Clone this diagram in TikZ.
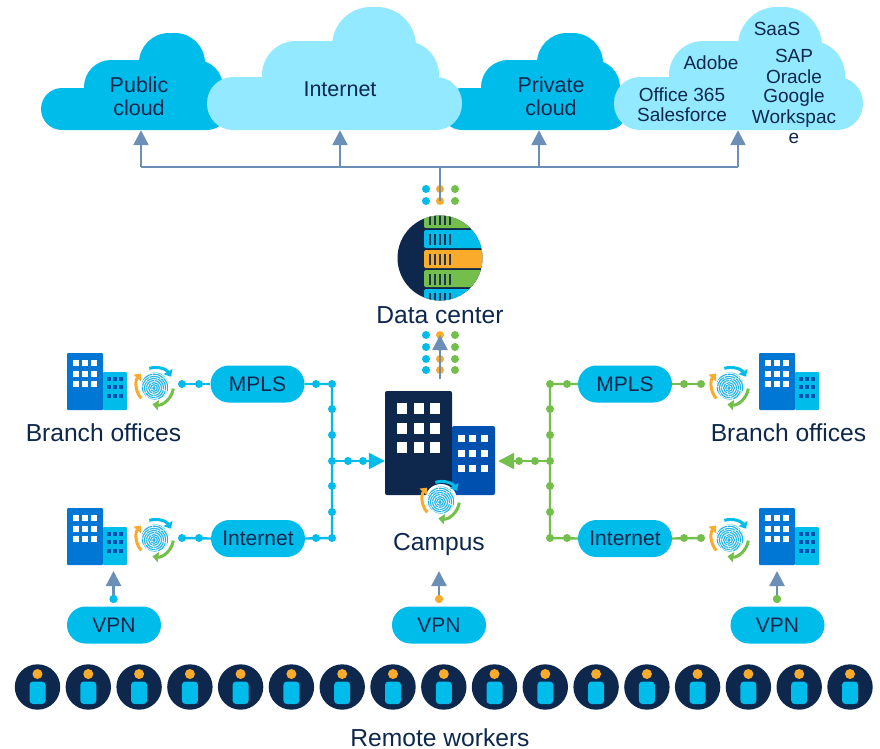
\documentclass[tikz,border=0pt]{standalone}
\usepackage{fontspec}
\setmainfont{Liberation Sans}
\usetikzlibrary{arrows.meta,shapes.misc}
\definecolor{navy}{HTML}{0D274D}
\definecolor{cyanA}{HTML}{00BCEB}
\definecolor{cyanB}{HTML}{93E9FF}
\definecolor{blueA}{HTML}{0076D5}
\definecolor{blueB}{HTML}{0051AF}
\definecolor{steel}{HTML}{6C8FB8}
\definecolor{orangeA}{HTML}{FBAB2C}
\definecolor{greenA}{HTML}{74BF4B}
\definecolor{fpblue}{HTML}{22B4E6}
\tikzset{
  x=1pt,y=-1pt,
  lbl/.style={text=navy,font=\fontsize{21.5}{23}\selectfont,align=center,inner sep=0pt},
  saaslbl/.style={text=navy,font=\fontsize{19}{21}\selectfont,align=center,inner sep=0pt,anchor=base},
  biglbl/.style={text=navy,font=\fontsize{24.6}{28}\selectfont,align=center,inner sep=0pt,anchor=base},
  pill/.style={rounded rectangle,fill=cyanA,text=navy,font=\fontsize{21}{24}\selectfont,inner sep=0pt,minimum width=94pt,minimum height=37pt},
  anchorbox/.style={inner sep=0pt,minimum width=#1,minimum height=40pt},
  bus/.style={draw=steel,line width=2.4pt},
  busarrow/.style={draw=steel,line width=2.4pt,-{Triangle[length=15pt,width=15pt]}},
  cyanline/.style={draw=cyanA,line width=2.4pt},
  greenline/.style={draw=greenA,line width=2.4pt},
  cyandot/.style={circle,fill=cyanA,inner sep=0pt,minimum size=8pt},
  greendot/.style={circle,fill=greenA,inner sep=0pt,minimum size=8pt},
  orangedot/.style={circle,fill=orangeA,inner sep=0pt,minimum size=8pt},
  pics/branchbldg/.style={code={
    \fill[blueA,rounded corners=1pt] (0,0) rectangle (36,57);
    \fill[cyanA,rounded corners=1pt] (36,19) rectangle (60,57);
    \foreach \wy in {7,18,28}{\foreach \wx in {6,15,24}{\fill[white] (\wx,\wy) rectangle +(6,6);}}
    \foreach \wy in {24,32,41}{\foreach \wx in {40,46,52}{\fill[blueB] (\wx,\wy) rectangle +(4.4,4);}}
  }},
  pics/fpicon/.style={code={
    \begin{scope}[yscale=-1]
      \fill[white] (0,0) circle (16);
      \begin{scope}
        \clip (0,0) circle (13.6);
        \foreach \fr in {1.2,3.3,5.4,7.5,9.6,11.7,13.8,15.9}{
          \draw[fpblue,line width=1.15pt,dash pattern=on 11pt off .8pt] (-1,-2) circle (\fr);
        }
      \end{scope}
      \draw[cyanA,line width=3pt,-{Triangle[length=6pt,width=10pt]}] (108:18.5) arc (108:30:18.5);
      \draw[greenA,line width=3pt,-{Triangle[length=6pt,width=10pt]}] (-8:18.5) arc (-8:-98:18.5);
      \draw[orangeA,line width=3pt,-{Triangle[length=6pt,width=10pt]}] (222:18.5) arc (222:138:18.5);
    \end{scope}
  }},
  pics/worker/.style={code={
    \fill[navy] (0,0) circle (22.7);
    \fill[orangeA] (0,-13) circle (5);
    \fill[cyanA,rounded corners=3.5pt] (-8,-5.5) rectangle (8,17);
  }}
}
\begin{document}
\begin{tikzpicture}
\useasboundingbox (0,0) rectangle (880,748);
% clouds
\fill[cyanA,rounded corners=21pt] (41,88) rectangle (228,130);
\fill[cyanA,rounded corners=27pt] (84,60) rectangle (223,125);
\fill[cyanA,rounded corners=30pt] (139,33) rectangle (205,100);
\fill[cyanA,rounded corners=21pt] (441,88) rectangle (628,130);
\fill[cyanA,rounded corners=27pt] (481,60) rectangle (620,125);
\fill[cyanA,rounded corners=30pt] (537,33) rectangle (603,100);
\fill[cyanB,rounded corners=26pt] (207,77) rectangle (462,130);
\fill[cyanB,rounded corners=34pt] (262,41) rectangle (439,120);
\fill[cyanB,rounded corners=39pt] (332,7) rectangle (416,100);
\fill[cyanB,rounded corners=26pt] (614,77) rectangle (863,130);
\fill[cyanB,rounded corners=34pt] (669,41) rectangle (845,120);
\fill[cyanB,rounded corners=39pt] (738,7) rectangle (822,100);
\node[anchorbox=184pt] (cloudPublic) at (133,110) {};
\node[anchorbox=255pt] (cloudInternet) at (334,110) {};
\node[anchorbox=184pt] (cloudPrivate) at (533,110) {};
\node[anchorbox=249pt] (cloudSaas) at (738,110) {};
\node[lbl] (tPublic) at (139,96) {Public\\cloud};
\node[lbl] (tInternet) at (340,89) {Internet};
\node[lbl] (tPrivate) at (551,96) {Private\\cloud};
\node[saaslbl] (tSaas) at (777,35) {SaaS};
\node[saaslbl] (tAdobe) at (711,69) {Adobe};
\node[saaslbl] (tOffice) at (682,101) {Office 365};
\node[saaslbl] (tSales) at (682,121) {Salesforce};
\node[saaslbl] (tSap) at (794,62) {SAP};
\node[saaslbl] (tOracle) at (794,83) {Oracle};
\node[saaslbl] (tGoogle) at (794,102.5) {Google};
\node[saaslbl] (tWork) at (794,123) {Workspac};
\node[saaslbl] (tE) at (794,143) {e};
% data centre dots
\foreach \dy/\dn in {189/a,201/b,335/c,347/d,359/e,370/f}{
  \node[cyandot] (dc\dn1) at (426,\dy) {};
  \node[orangedot] (dc\dn2) at (440,\dy) {};
  \node[greendot] (dc\dn3) at (455,\dy) {};
}
% bus
\coordinate (busA) at (141,167);
\coordinate (busB) at (340,167);
\coordinate (busC) at (539,167);
\coordinate (busD) at (738,167);
\coordinate (busM) at (440,167);
\draw[bus] (busA) -- (busD);
\draw[draw=steel,line width=1.6pt] (busM) -- (dcb2.center);
\draw[busarrow] (busA) -- (busA |- cloudPublic.south);
\draw[busarrow] (busB) -- (busB |- cloudInternet.south);
\draw[busarrow] (busC) -- (busC |- cloudPrivate.south);
\draw[busarrow] (busD) -- (busD |- cloudSaas.south);
% data center
\begin{scope}
  \clip (440,258) circle (42.5);
  \fill[navy] (395,214) rectangle (485,302);
  \fill[greenA,rounded corners=1.5pt] (424,206) rectangle (490,228);
  \fill[cyanA,rounded corners=1.5pt] (424,230) rectangle (490,248);
  \fill[orangeA,rounded corners=1.5pt] (424,250) rectangle (490,268);
  \fill[greenA,rounded corners=1.5pt] (424,270) rectangle (490,287);
  \fill[cyanA,rounded corners=1.5pt] (424,289) rectangle (490,310);
  \foreach \tx in {430,435,440,445,450}{
    \foreach \ty in {207,234,254,274,293}{
      \fill[navy!85!gray] (\tx-1.2,\ty) rectangle +(2.4,\ifnum\ty=207 18\else 10.5\fi);
    }
  }
\end{scope}
\node[biglbl] (tDC) at (440,323) {Data center};
% campus
\fill[navy,rounded corners=2pt] (385,391) rectangle (452,495);
\fill[blueB,rounded corners=2pt] (452,426) rectangle (495,495);
\foreach \wy in {403,423,442}{\foreach \wx in {397,414,430}{\fill[white] (\wx,\wy) rectangle +(10,10.5);}}
\foreach \wy in {435,450,465}{\foreach \wx in {458,469,481}{\fill[white] (\wx,\wy) rectangle +(7,7);}}
\pic at (441,500) {fpicon};
\node[inner sep=0pt,minimum width=113pt,minimum height=104pt] (campus) at (441.5,443) {};
\node[biglbl] (tCampus) at (439,550) {Campus};
\draw[busarrow] (440,379) -- (dcc2.center);
% left side
\pic at (67,353) {branchbldg};
\pic at (67,508) {branchbldg};
\pic at (155,386) {fpicon};
\pic at (155,538) {fpicon};
\node[biglbl] (tBL) at (103.5,441) {Branch offices};
\node[pill] (mplsL) at (257.5,384) {MPLS};
\node[pill] (inetL) at (258,538.5) {Internet};
\foreach \px/\py/\pn in {182/384/a,199/384/b,316/384/c,332/384/d,332/409/e,332/435/f,332/461/g,332/486/h,332/512/i,332/538/j,316/538/k,182/538/l,199/538/m,348/461/n,363/461/o}{
  \node[cyandot] (L\pn) at (\px,\py) {};
}
\draw[cyanline] (La.center) -- (mplsL.west);
\draw[cyanline] (mplsL.east) -- (Ld.center) -- (Lj.center) -- (inetL.east);
\draw[cyanline] (Ll.center) -- (inetL.west);
\draw[cyanline,-{Triangle[length=16pt,width=16pt]}] (Lg.center) -- (Lg -| campus.west);
% right side
\pic at (759,353) {branchbldg};
\pic at (759,508) {branchbldg};
\pic at (730,386) {fpicon};
\pic at (730,538) {fpicon};
\node[biglbl] (tBR) at (788.5,441) {Branch offices};
\node[pill] (mplsR) at (625,384) {MPLS};
\node[pill] (inetR) at (625,538.5) {Internet};
\foreach \px/\py/\pn in {701/384/a,684/384/b,567/384/c,550/384/d,550/409/e,550/435/f,550/461/g,550/486/h,550/512/i,550/538/j,567/538/k,701/538/l,684/538/m,535/461/n,519/461/o}{
  \node[greendot] (R\pn) at (\px,\py) {};
}
\draw[greenline] (Ra.center) -- (mplsR.east);
\draw[greenline] (mplsR.west) -- (Rd.center) -- (Rj.center) -- (inetR.west);
\draw[greenline] (Rl.center) -- (inetR.east);
\draw[greenline,-{Triangle[length=16pt,width=16pt]}] (Rg.center) -- (Rg -| campus.east);
% VPN
\node[pill] (vpnL) at (114,625) {VPN};
\node[pill] (vpnC) at (439,625) {VPN};
\node[pill] (vpnR) at (777.5,625) {VPN};
\node[cyandot] (dotL) at (113.5,599) {};
\node[orangedot] (dotC) at (439,599) {};
\node[greendot] (dotR) at (777,599) {};
\coordinate (tipL) at (113.5,571);
\coordinate (tipC) at (439,571);
\coordinate (tipR) at (777,571);
\draw[busarrow] (dotL.center) -- (tipL);
\draw[busarrow] (dotC.center) -- (tipC);
\draw[busarrow] (dotR.center) -- (tipR);
\node[cyandot] at (113.5,599) {};
\node[orangedot] at (439,599) {};
\node[greendot] at (777,599) {};
% workers
\foreach \wx in {37.5,88.3,139.1,189.9,240.6,291.4,342.2,393,443.8,494.5,545.3,596.1,646.9,697.6,748.4,799.2,850}{
  \pic at (\wx,687) {worker};
}
\node[biglbl] (tRW) at (440,746.5) {Remote workers};
\end{tikzpicture}
\end{document}
